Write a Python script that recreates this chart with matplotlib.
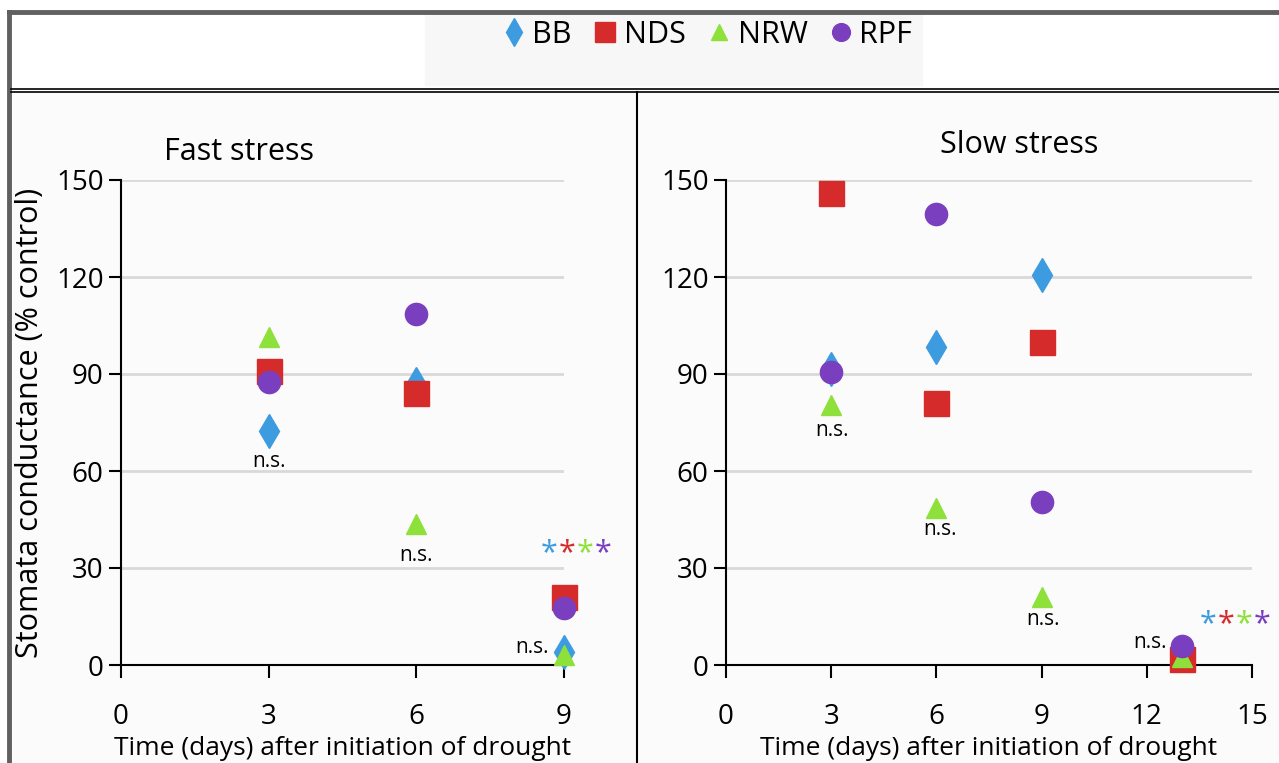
import matplotlib.pyplot as plt
import matplotlib.lines as mlines
import matplotlib.patches as patches

plt.rcParams['font.family'] = ['Open Sans', 'DejaVu Sans']

# data
names = ['BB', 'NDS', 'NRW', 'RPF']
colors = ['#3d9be0', '#d62b2b', '#8ee03a', '#7a3fbf']
markers = ['d', 's', '^', 'o']

fast_days = [3, 6, 9]
fast_vals = {
    'BB': [72.5, 87, 4],
    'NDS': [91, 84, 21],
    'NRW': [101.5, 43.5, 3],
    'RPF': [87.5, 108.5, 17.5],
}
slow_days = [3, 6, 9, 13]
slow_vals = {
    'BB': [91.5, 98.5, 120.5, 3],
    'NDS': [146, 81, 100, 2],
    'NRW': [80.5, 48.5, 21, 2.5],
    'RPF': [90.5, 139.5, 50.5, 6],
}
# (x, y) of the "n.s." notes
fast_ns = [(3, 63), (6, 34), (8.35, 5.5)]
slow_ns = [(3.02, 72.5), (6.1, 42), (9.05, 14), (12.1, 7)]

msizes = {'d': 17.5, 's': 18, '^': 15, 'o': 16}

fig = plt.figure(figsize=(12.79, 7.63), dpi=100)
W, H = 1279, 763


def fx(px):
    return px / W


def fy(py):
    return 1 - py / H


# frame lines
fig.add_artist(mlines.Line2D([fx(9), 1], [fy(12), fy(12)], color='#606060', lw=3.5))
fig.add_artist(mlines.Line2D([fx(9), fx(9)], [fy(12), 0], color='#606060', lw=3.5))
fig.add_artist(mlines.Line2D([fx(11), 1], [fy(88.5), fy(88.5)], color='black', lw=1.2))
fig.add_artist(mlines.Line2D([fx(11), 1], [fy(91.5), fy(91.5)], color='black', lw=1.2))
fig.add_artist(mlines.Line2D([fx(637), fx(637)], [fy(92), 0], color='black', lw=1.5))
fig.add_artist(patches.Rectangle((fx(11), 0), fx(625), fy(93), color='#fbfbfb', zorder=-5))
fig.add_artist(patches.Rectangle((fx(639), 0), 1 - fx(639), fy(93), color='#fbfbfb', zorder=-5))
fig.add_artist(patches.Rectangle((fx(425), fy(85)), fx(497), fy(14) - fy(85), color='#f7f7f7', zorder=-4))


def panel(rect, days, vals, xmax, xticks, ns, star_xy, star_dx, title, title_xy):
    ax = fig.add_axes(rect)
    ax.set_facecolor('none')
    for name, c, m in zip(names, colors, markers):
        ax.plot(days, vals[name], linestyle='none', marker=m, color=c,
                markersize=msizes[m], label=name, clip_on=False, zorder=3)
    ax.set_xlim(0, xmax)
    ax.set_ylim(0, 150)
    ax.set_xticks(xticks)
    ax.set_yticks([0, 30, 60, 90, 120, 150])
    ax.yaxis.grid(True, color='#d9d9d9', lw=2)
    ax.set_axisbelow(True)
    for s in ['top', 'right']:
        ax.spines[s].set_visible(False)
    ax.spines['left'].set_linewidth(1.5)
    ax.spines['bottom'].set_linewidth(1.5)
    ax.tick_params(axis='both', labelsize=20, width=1.5, length=9, direction='out')
    ax.tick_params(axis='x', pad=18)
    ax.set_xlabel('Time (days) after initiation of drought', fontsize=19, labelpad=4)
    for x, y in ns:
        ax.text(x, y, 'n.s.', fontsize=15, ha='center', va='center')
    sx, sy = star_xy
    for i, c in enumerate(colors):
        ax.text(sx + i * star_dx, sy, '*', color=c, fontsize=22, ha='center',
                va='center', clip_on=False)
    fig.text(title_xy[0], title_xy[1], title, fontsize=22, ha='center', va='center')
    return ax


ax1 = panel([fx(121), fy(665), fx(564) - fx(121), fy(180) - fy(665)], fast_days, fast_vals, 9,
            [0, 3, 6, 9], fast_ns, (8.69, 34.5), 0.37, 'Fast stress', (fx(239), fy(152)))
ax1.set_ylabel('Stomata conductance (% control)', fontsize=22, labelpad=8)
ax2 = panel([fx(726), fy(665), fx(1252) - fx(726), fy(180) - fy(665)], slow_days, slow_vals, 15,
            [0, 3, 6, 9, 12, 15], slow_ns, (13.75, 12.5), 0.51, 'Slow stress', (fx(1019), fy(145)))

handles, labels = ax1.get_legend_handles_labels()
leg = fig.legend(handles, labels, loc='center', bbox_to_anchor=(fx(707), fy(35)), ncol=4,
                 frameon=False, fontsize=22, handlelength=0.8, handletextpad=0.2,
                 columnspacing=0.7, markerscale=0.8)

fig.savefig('out.png', dpi=100)
